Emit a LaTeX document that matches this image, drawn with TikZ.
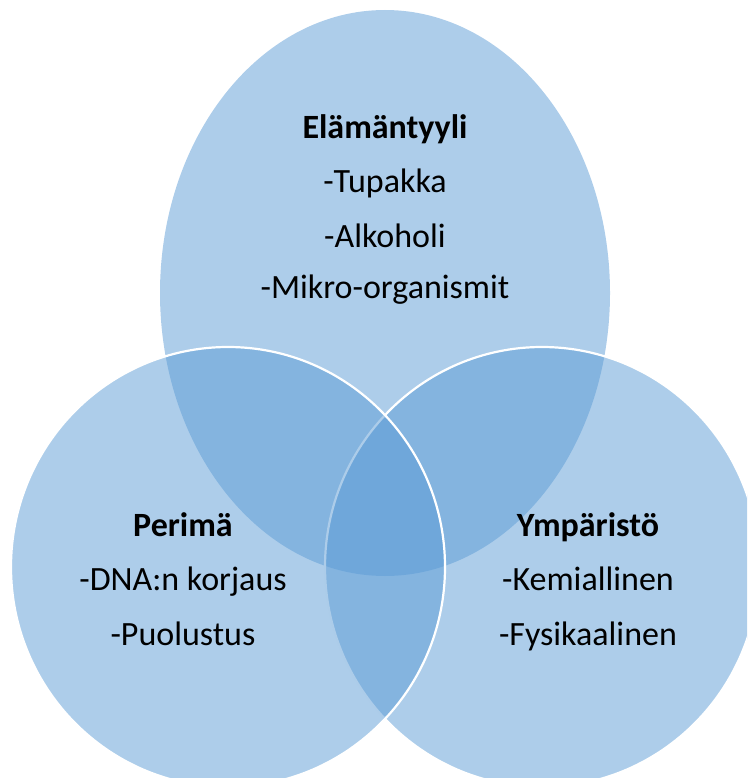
\documentclass[tikz,border=0pt]{standalone}
\usepackage{fontspec}
\setmainfont{Carlito}
\definecolor{vennblue}{HTML}{5B9BD5}
\begin{document}
\begin{tikzpicture}[x=1pt,y=-1pt,
  venn/.style={fill=vennblue,fill opacity=0.5},
  vennedge/.style={draw=white,line width=2.2pt},
  lbl/.style={anchor=base,inner sep=0pt,font=\fontsize{34}{40}\selectfont,text=black},
  ttl/.style={lbl,font=\fontsize{34}{40}\selectfont\bfseries}]
\useasboundingbox (0,0) rectangle (747,778);
\clip (0,0) rectangle (747,778);
% circles
\fill[venn] (385,293) ellipse [x radius=225pt, y radius=283pt];
\path[venn,vennedge] (542,567) ellipse [x radius=217pt, y radius=220pt];
\path[venn,vennedge] (228,567) ellipse [x radius=217pt, y radius=220pt];
% top texts
\node[ttl] (t0) at (385,139) {Elämäntyyli};
\node[lbl] (t1) at (385,193) {-Tupakka};
\node[lbl] (t2) at (385,247) {-Alkoholi};
\node[lbl] (t3) at (385,298) {-Mikro-organismit};
% left texts
\node[ttl] (l0) at (183,536) {Perimä};
\node[lbl] (l1) at (183,590) {-DNA:n korjaus};
\node[lbl] (l2) at (183,645) {-Puolustus};
% right texts
\node[ttl] (r0) at (588,536) {Ympäristö};
\node[lbl] (r1) at (588,590) {-Kemiallinen};
\node[lbl] (r2) at (588,645) {-Fysikaalinen};
\end{tikzpicture}
\end{document}
